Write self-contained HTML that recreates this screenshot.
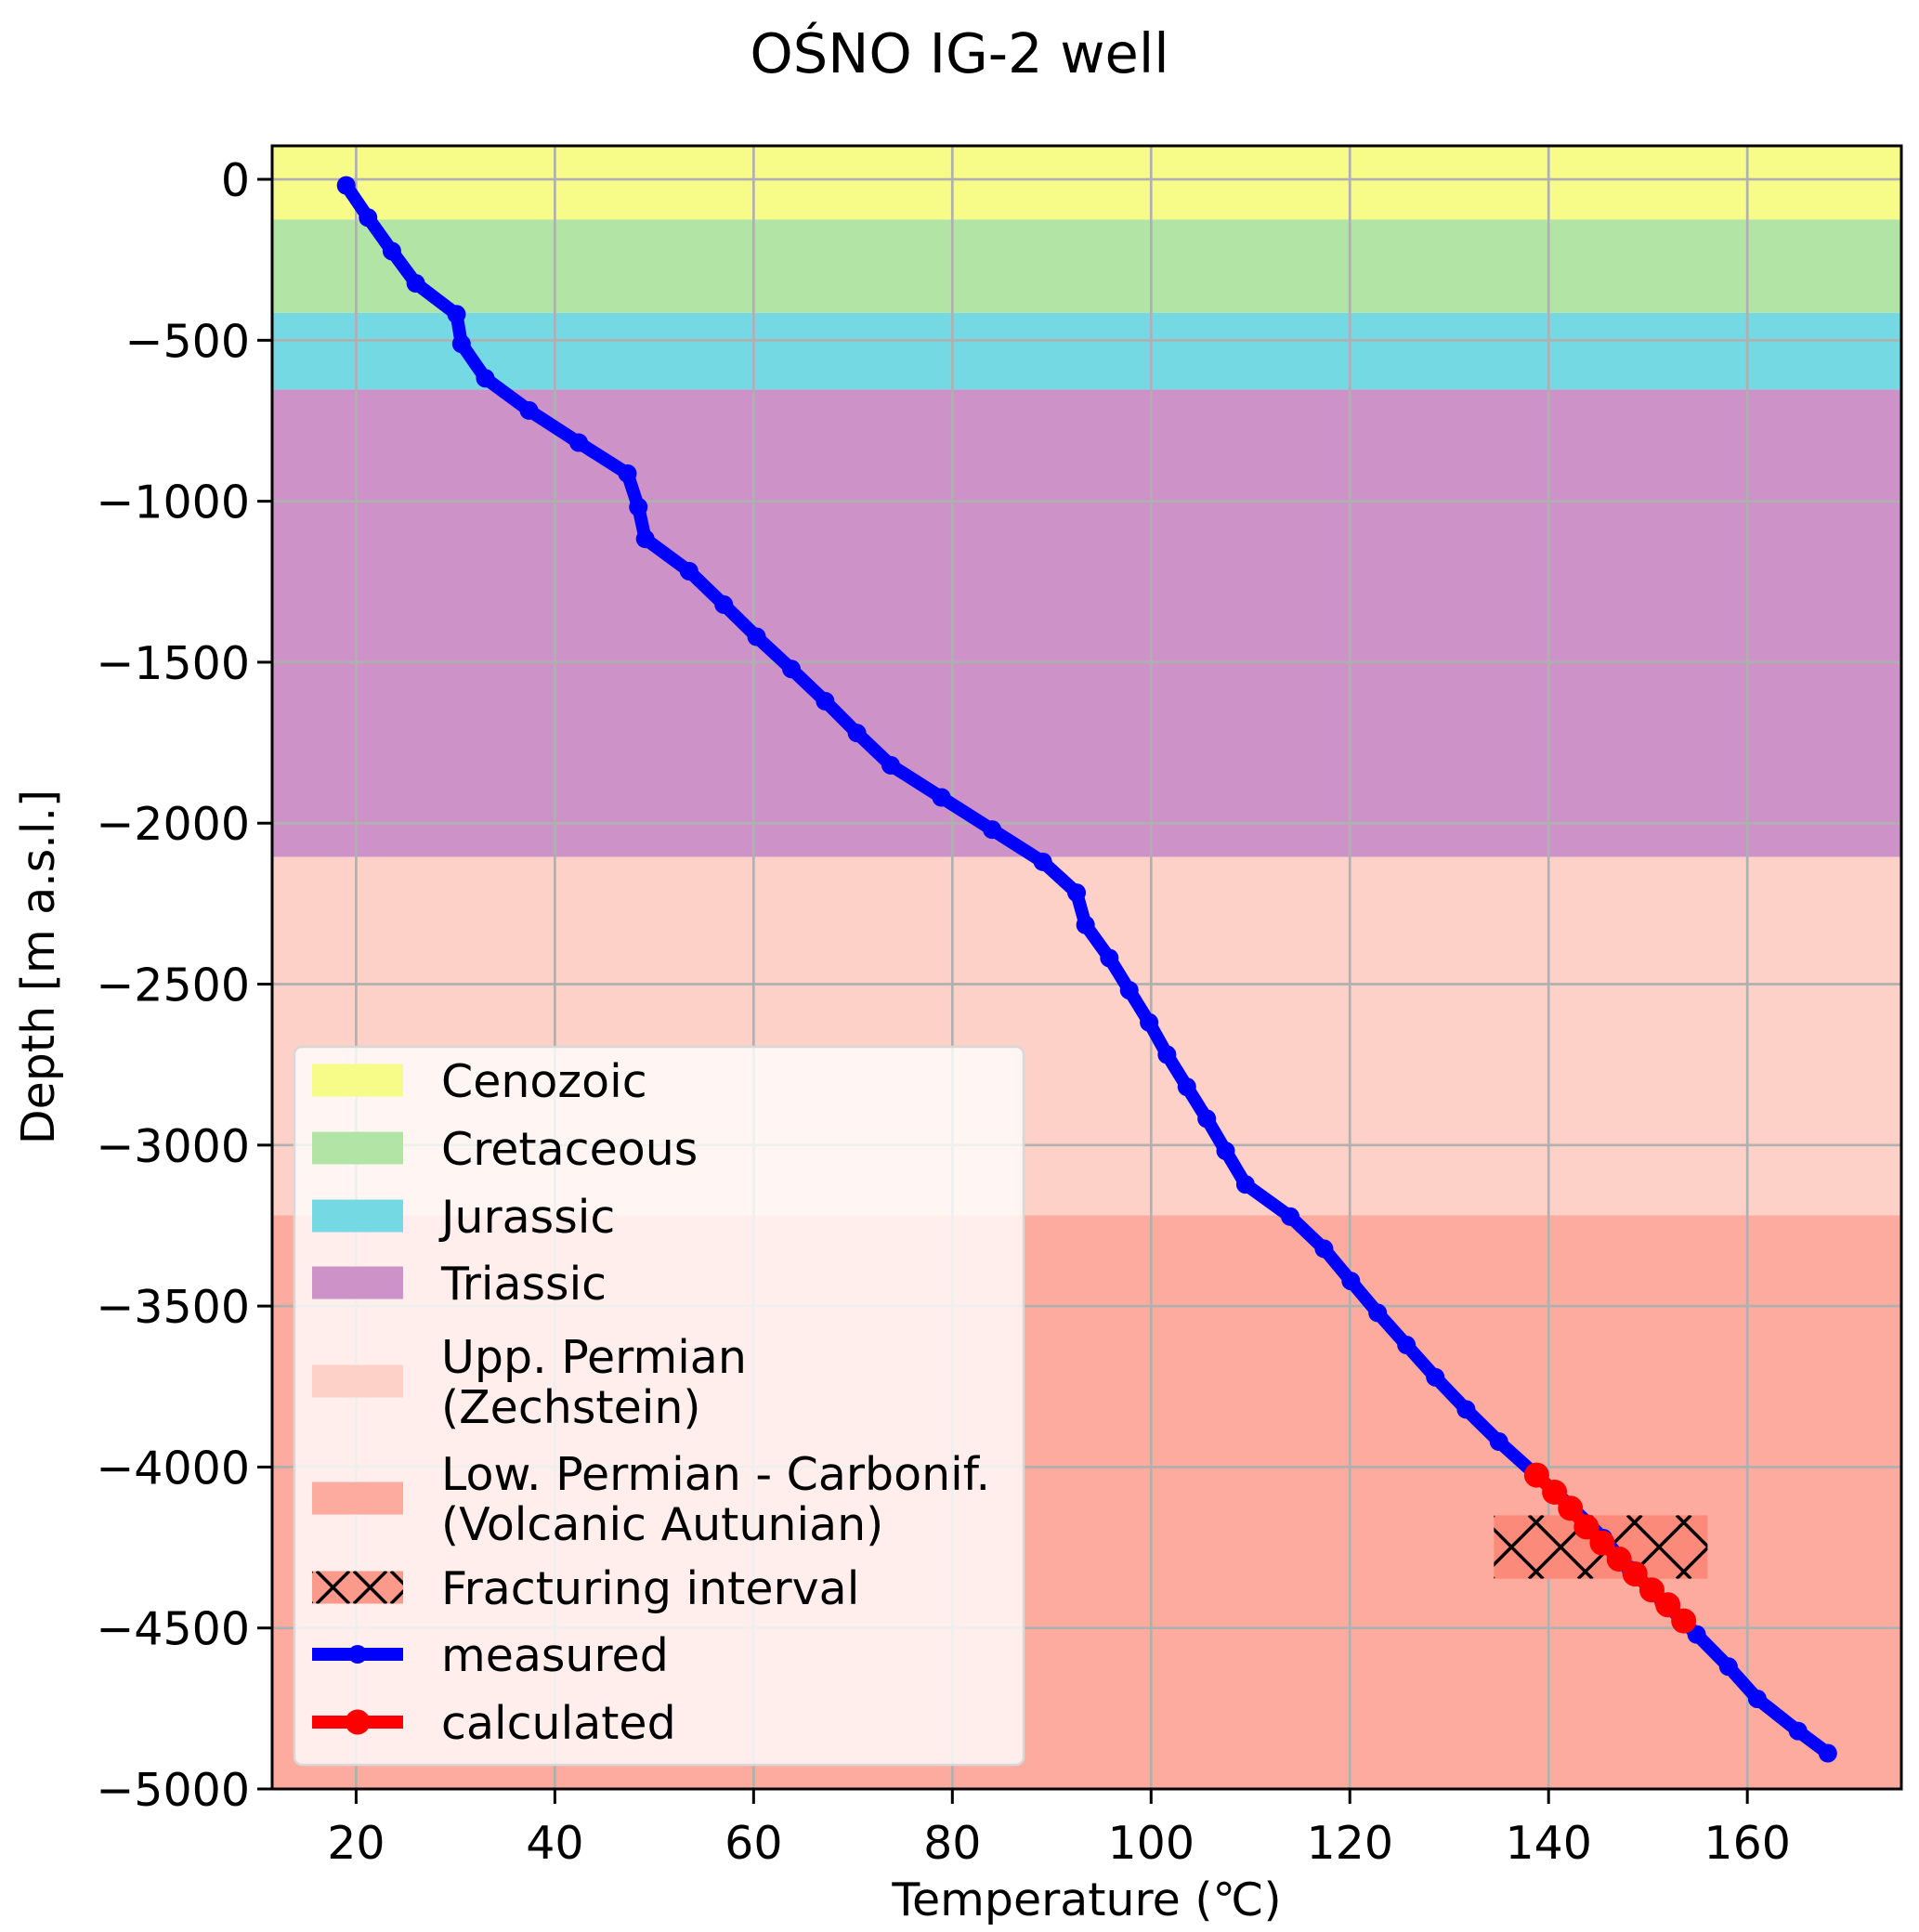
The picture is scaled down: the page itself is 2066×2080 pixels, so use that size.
<!DOCTYPE html>
<html><head><meta charset="utf-8"><style>
body{margin:0;background:#fff}
svg{display:block}
text{font-family:"DejaVu Sans","Liberation Sans",sans-serif;fill:#000}
</style></head><body>
<svg id="chart" width="2066" height="2080" viewBox="0 0 2066 2080">
<defs>
<clipPath id="plotclip"><rect x="293" y="157" width="1754" height="1769"/></clipPath>
</defs>
<text x="1033" y="78" font-size="59" text-anchor="middle">OŚNO IG-2 well</text>
<g id="layers" clip-path="url(#plotclip)"></g>
<g id="grid"></g>
<g id="hatchg" clip-path="url(#plotclip)"></g>
<g id="series" clip-path="url(#plotclip)"></g>
<rect x="293" y="157" width="1754" height="1769" fill="none" stroke="#000" stroke-width="3"/>
<g id="ticks"></g>
<text x="1170" y="2062" font-size="49" text-anchor="middle">Temperature (℃)</text>
<text transform="translate(58,1041) rotate(-90)" font-size="49" text-anchor="middle">Depth [m a.s.l.]</text>
<g id="legend"></g>
</svg>
<script>
const layerNames=["Cenozoic","Cretaceous","Jurassic","Triassic","Upp. Permian\n(Zechstein)","Low. Permian - Carbonif.\n(Volcanic Autunian)"];
const layerTops=[200,-125,-415,-653,-2105,-3218];
const layerBottoms=[-125,-415,-653,-2105,-3218,-5200];
const layerColors=["#f7fb88","#b1e4a5","#75d9e3","#cd93c8","#fdd1c8","#feab9f"];
const xTicks=[20,40,60,80,100,120,140,160];
const yTicks=[0,-500,-1000,-1500,-2000,-2500,-3000,-3500,-4000,-4500,-5000];
const fracT=[134.5,156];
const fracD=[-4150,-4347];
const measT=[19,21.2,23.6,26,30.1,30.6,33,37.4,42.4,47.3,48.4,49.1,53.5,57,60.3,63.8,67.2,70.4,73.8,78.9,84,89.1,92.5,93.4,95.8,97.8,99.8,101.6,103.6,105.6,107.5,109.5,114,117.4,120.1,122.8,125.7,128.6,131.7,135,138.6,142.2,145.5,148.3,151.6,154.9,158.1,161,165.1,168.1];
const measD=[-19,-119,-223,-323,-419,-511,-618,-718,-818,-914,-1018,-1117,-1217,-1321,-1421,-1521,-1621,-1720,-1820,-1920,-2020,-2120,-2216,-2316,-2419,-2519,-2619,-2719,-2819,-2918,-3018,-3122,-3222,-3322,-3422,-3521,-3621,-3721,-3821,-3921,-4021,-4121,-4221,-4320,-4420,-4520,-4620,-4720,-4820,-4889];
const calcT=[138.8,140.6,142.2,143.8,145.4,147.1,148.7,150.4,152,153.6];
const calcD=[-4025,-4078,-4128,-4186,-4236,-4286,-4332,-4382,-4428,-4478];

const NS="http://www.w3.org/2000/svg";
const X0=293,X1=2047,Y0=157,Y1=1926;
const xmin=11.55,xmax=175.5,ymax=104,ymin=-5000;
const sx=v=>X0+(v-xmin)/(xmax-xmin)*(X1-X0);
const sy=v=>Y0+(ymax-v)/(ymax-ymin)*(Y1-Y0);
function mk(tag,attrs,parent){const e=document.createElementNS(NS,tag);for(const k in attrs)e.setAttribute(k,attrs[k]);parent.appendChild(e);return e;}
let clipN=0;
function hatch(parent,x,y,w,h,period,sw){
  const id='hc'+(clipN++);
  const cp=mk('clipPath',{id:id},document.querySelector('defs'));
  mk('rect',{x:x,y:y,width:w,height:h},cp);
  const g=mk('g',{'clip-path':'url(#'+id+')'},parent);
  let d='';
  for(let k=-h-period;k<w+h+period;k+=period){
    d+='M'+(x+k)+','+y+' L'+(x+k+h)+','+(y+h)+' ';
    d+='M'+(x+k+h)+','+y+' L'+(x+k)+','+(y+h)+' ';
  }
  mk('path',{d:d,stroke:'#000','stroke-width':sw,fill:'none'},g);
}
const gL=document.getElementById('layers');
layerNames.forEach((n,i)=>{
 const r=mk('rect',{x:X0,y:sy(layerTops[i]),width:X1-X0,height:sy(layerBottoms[i])-sy(layerTops[i]),fill:layerColors[i]},gL);
 
 
});
const gG=document.getElementById('grid'),gT=document.getElementById('ticks');
xTicks.forEach(t=>{
 const l=mk('line',{x1:sx(t),x2:sx(t),y1:Y0,y2:Y1,stroke:'#b0b0b0','stroke-width':2.7},gG);
 
 
 mk('line',{x1:sx(t),x2:sx(t),y1:Y1,y2:Y1+16,stroke:'#000','stroke-width':3},gT);
 const tx=mk('text',{x:sx(t),y:2001,'font-size':49,'text-anchor':'middle'},gT);
 tx.textContent=t;
 
 
});
yTicks.forEach(t=>{
 const l=mk('line',{x1:X0,x2:X1,y1:sy(t),y2:sy(t),stroke:'#b0b0b0','stroke-width':2.7},gG);
 
 
 mk('line',{x1:X0-16,x2:X0,y1:sy(t),y2:sy(t),stroke:'#000','stroke-width':3},gT);
 const tx=mk('text',{x:X0-24,y:sy(t)+18,'font-size':49,'text-anchor':'end'},gT);
 tx.textContent=(t<0?'\u2212':'')+Math.abs(t);
 
 
});
const gH=document.getElementById('hatchg');
const hx=sx(fracT[0]),hy=sy(fracD[0]),hw=sx(fracT[1])-hx,hh=sy(fracD[1])-hy;
const hr1=mk('rect',{x:hx,y:hy,width:hw,height:hh,fill:'#fb8a7a'},gH);


hatch(gH,hx,hy,hw,hh,53,3.5);
const gS=document.getElementById('series');
function series(T,D,color,lw,r,name){
 const p=mk('polyline',{points:T.map((t,i)=>sx(t)+','+sy(D[i])).join(' '),fill:'none',stroke:color,'stroke-width':lw,'stroke-linejoin':'round','stroke-linecap':'round'},gS);
 
 
 T.forEach((t,i)=>{
  const c=mk('circle',{cx:sx(t),cy:sy(D[i]),r:r,fill:color},gS);
  
  
 });
}
series(measT,measD,'#0000ff',14,10,'measured');
series(calcT,calcD,'#ff0000',14,13.5,'calculated');
// legend
const gLe=document.getElementById('legend');
const lg=mk('rect',{x:317,y:1127,width:785,height:773,rx:8,fill:'rgba(255,255,255,0.8)',stroke:'#d8d8d8','stroke-width':2.5},gLe);


const legY=[1163,1236,1309,1381,1487,1613];
layerNames.forEach((n,i)=>{
 const r=mk('rect',{x:336,y:legY[i]-17.5,width:98,height:35,fill:layerColors[i]},gLe);
 
 
 const lines=n.split('\n');
 lines.forEach((ln,j)=>{
  const off=lines.length>1?(j===0?-27:27):0;
  const t=mk('text',{x:475,y:legY[i]+off+18,'font-size':49},gLe);
  t.textContent=ln;
  
  
 });
});
const fy=1709;
const fr=mk('rect',{x:336,y:fy-17.5,width:98,height:35,fill:'#fb9a8a'},gLe);


hatch(gLe,336,fy-17.5,98,35,40,3.5);
const ft=mk('text',{x:475,y:fy+18,'font-size':49},gLe);ft.textContent='Fracturing interval';


[['measured','#0000ff',1781,10],['calculated','#ff0000',1854,13.5]].forEach(([n,c,y,r])=>{
 mk('line',{x1:336,x2:434,y1:y,y2:y,stroke:c,'stroke-width':14},gLe);
 const cc=mk('circle',{cx:385,cy:y,r:r,fill:c},gLe);
 
 
 const t=mk('text',{x:475,y:y+18,'font-size':49},gLe);t.textContent=n;
 
 
});
</script>
</body></html>
